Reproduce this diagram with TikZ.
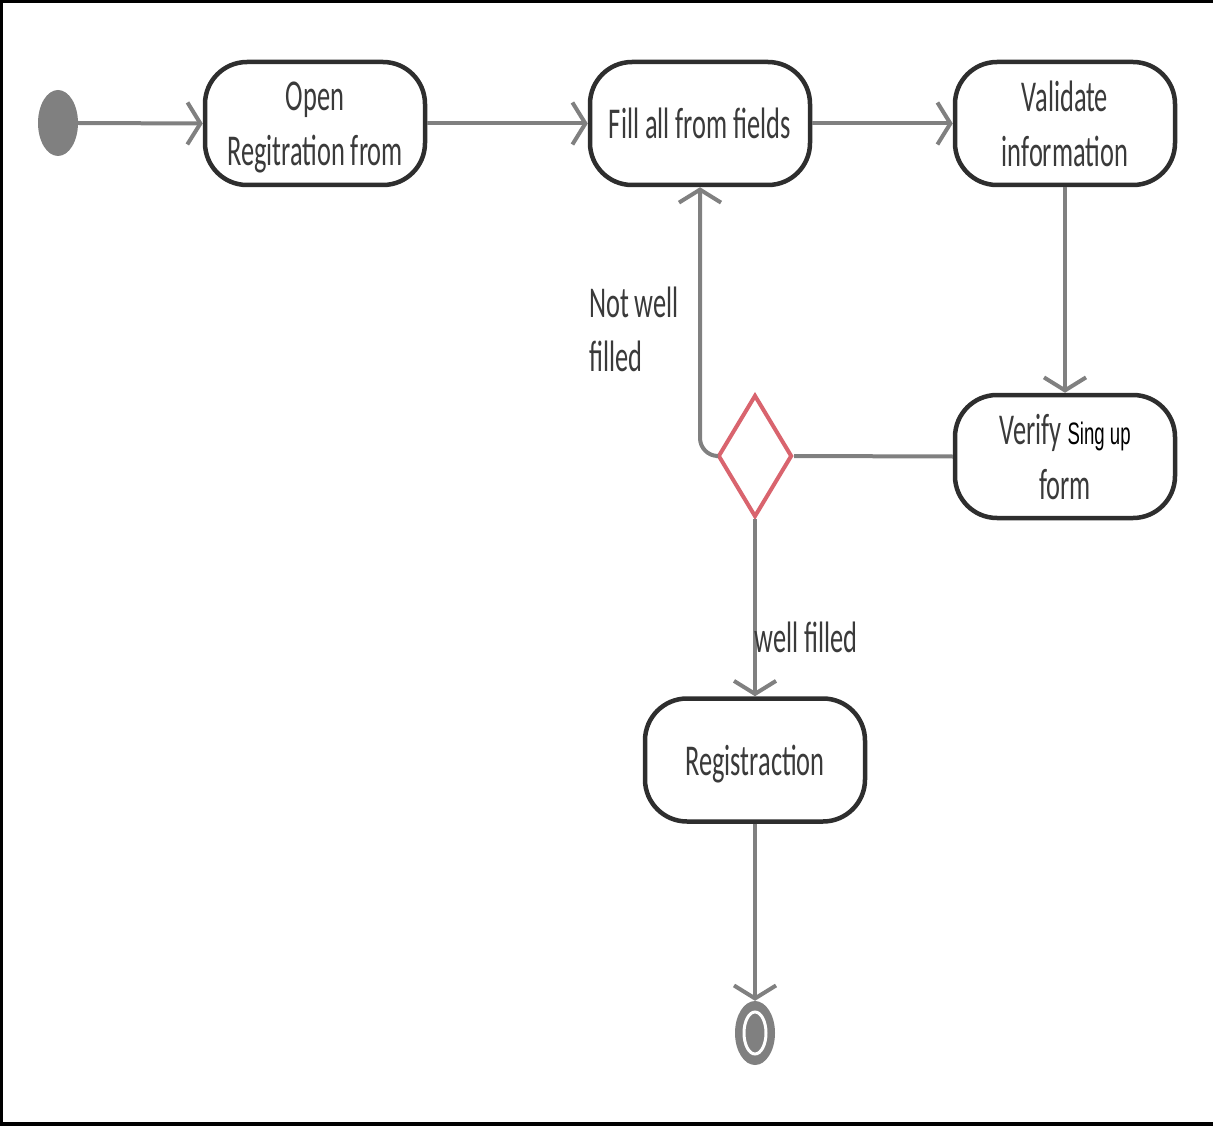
\documentclass[tikz,border=0pt]{standalone}
\usepackage{fontspec}
\setmainfont{Carlito}[FakeStretch=0.6]
\newfontfamily\singfont{Liberation Sans}[FakeStretch=0.6]
\usetikzlibrary{arrows.meta,shapes.geometric}
\definecolor{edgegrey}{HTML}{808080}
\definecolor{boxline}{HTML}{2E2E2E}
\definecolor{txt}{HTML}{3A3A3A}
\definecolor{decred}{HTML}{D9646E}
\begin{document}
\begin{tikzpicture}[x=1pt,y=-1pt,
  act/.style={draw=boxline,line width=4.5pt,rounded corners=42pt,minimum width=220pt,minimum height=123pt,fill=white,text=txt,align=center,inner sep=0pt,text depth=0pt,font=\fontsize{44}{55}\selectfont},
  flow/.style={draw=edgegrey,line width=4pt,-{Straight Barb[length=13pt,width=42pt,line width=4pt]}},
  plain/.style={draw=edgegrey,line width=4pt},
  lbl/.style={text=txt,font=\fontsize{44}{54}\selectfont,inner sep=0pt}]
\useasboundingbox (0,0) rectangle (1213,1126);
\draw[line width=4pt] (1213,1) -- (1,1) -- (1,1124) -- (1213,1124);
% nodes
\node[ellipse,fill=edgegrey,minimum width=40pt,minimum height=66pt,inner sep=0pt] (init) at (58,123) {};
\node[act] (open) at (315,123.5) {Open\\Regitration from};
\node[act] (fill) at (700,123.5) {Fill all from fields};
\node[act] (valid) at (1065,123.5) {Validate\\information};
\node[act] (verify) at (1065,456.5) {Verify {\singfont\color{black}\fontsize{31}{30}\selectfont Sing up}\\form};
\node[act] (reg) at (755,760) {Registraction};
\node[diamond,draw=decred,line width=4pt,fill=white,minimum width=74pt,minimum height=122pt,inner sep=0pt,aspect=0.6] (dec) at (755,456) {};
\node[ellipse,fill=edgegrey,minimum width=40pt,minimum height=64pt,inner sep=0pt] (final) at (755,1033) {};
\node[ellipse,draw=white,line width=3pt,fill=edgegrey,minimum width=22pt,minimum height=42pt,inner sep=0pt] (finalin) at (final) {};
% connectors
\draw[flow] (init.east) -- (open.west);
\draw[flow] (open.east) -- (fill.west);
\draw[flow] (fill.east) -- (valid.west);
\draw[flow] (valid.south) -- (verify.north);
\draw[plain] (verify.west) -- (dec.east);
\draw[flow,rounded corners=18pt] (dec.west) -- (700,456) -- (fill.south);
\draw[flow] (dec.south) -- (reg.north);
\draw[flow] (reg.south) -- (final.north);
% labels
\node[lbl,align=left,anchor=base west] (nw) at (589,371) {Not well\\filled};
\node[lbl] (wf) at (806,637) {well filled};
\end{tikzpicture}
\end{document}
